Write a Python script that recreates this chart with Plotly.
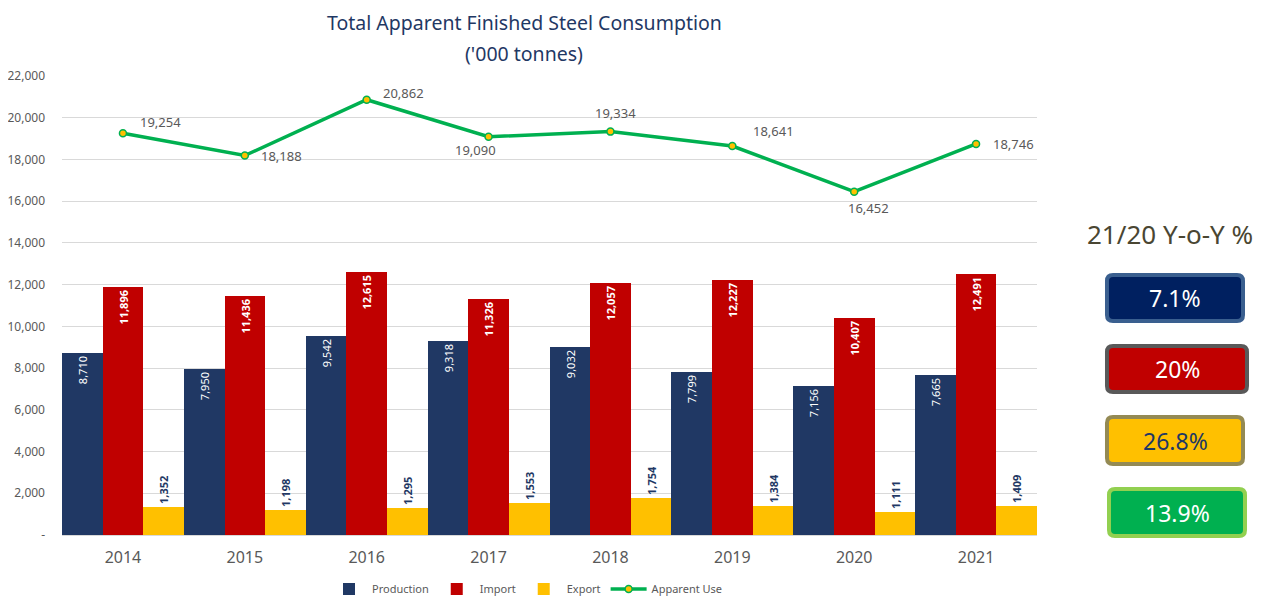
import plotly.graph_objects as go

years = ["2014", "2015", "2016", "2017", "2018", "2019", "2020", "2021"]
production = [8710, 7950, 9542, 9318, 9032, 7799, 7156, 7665]
imports = [11896, 11436, 12615, 11326, 12057, 12227, 10407, 12491]
exports = [1352, 1198, 1295, 1553, 1754, 1384, 1111, 1409]
apparent_use = [19254, 18188, 20862, 19090, 19334, 18641, 16452, 18746]
# label offsets (pixels) relative to each Apparent Use point, with anchor
use_label_dx = [15, 14, 14, -13, 5, 19, 14, 15]
use_label_dy = [11, 0, 7, -13, 19, 15, -16, 0]
use_label_anchor = ["left", "left", "left", "center", "center", "left", "center", "left"]

y_tickvals = [0, 2000, 4000, 6000, 8000, 10000, 12000, 14000, 16000, 18000, 20000, 22000]
y_ticktext = ["-", "2,000", "4,000", "6,000", "8,000", "10,000", "12,000",
              "14,000", "16,000", "18,000", "20,000", "22,000"]

yoy_title = "21/20 Y-o-Y %"
yoy_labels = ["7.1%", "20%", "26.8%", "13.9%"]
yoy_fill = ["#002060", "#C00000", "#FFC000", "#00B050"]
yoy_border = ["#3A5F8F", "#595959", "#948A54", "#92D050"]
yoy_text = ["white", "white", "#1F3864", "white"]

FONT = "Noto Sans"
OFF = 8  # page body margin offset
W, H = 1269 - OFF, 598 - OFF
L = 62 - OFF
T = 76 - OFF
B = H - (535 - OFF)
R = W - (1037 - OFF)
PW, PH = W - L - R, H - T - B

def fmt(v):
    return f"{v:,}"

fig = go.Figure()
fig.add_trace(go.Bar(
    name="Production", x=years, y=production, marker_color="#203864",
    marker_line_width=0,
    text=[fmt(v) for v in production], textposition="inside",
    insidetextanchor="end", textangle=-90,
    textfont=dict(color="white", size=11, family=FONT),
))
fig.add_trace(go.Bar(
    name="Import", x=years, y=imports, marker_color="#C00000",
    marker_line_width=0,
    text=[f"<b>{fmt(v)}</b>" for v in imports], textposition="inside",
    insidetextanchor="end", textangle=-90,
    textfont=dict(color="white", size=11, family=FONT),
))
fig.add_trace(go.Bar(
    name="Export", x=years, y=exports, marker_color="#FFC000",
    marker_line_width=0,
    text=[f"<b>{fmt(v)}</b>" for v in exports], textposition="outside",
    textangle=-90, cliponaxis=False,
    textfont=dict(color="#1F3864", size=11, family=FONT),
))
fig.add_trace(go.Scatter(
    name="Apparent Use", x=years, y=apparent_use, mode="lines+markers",
    line=dict(color="#00B050", width=3.5),
    marker=dict(color="#FFC000", size=7, line=dict(color="#00B050", width=1.5)),
))

for i, (v, dx, dy, anc) in enumerate(zip(apparent_use, use_label_dx, use_label_dy, use_label_anchor)):
    fig.add_annotation(x=i, y=v, xref="x", yref="y", text=fmt(v), showarrow=False,
                       xshift=dx, yshift=dy, xanchor=anc, yanchor="middle",
                       font=dict(color="#595959", size=13, family=FONT))

fig.update_layout(
    width=W, height=H,
    margin=dict(l=L, r=R, t=T, b=B, autoexpand=False),
    paper_bgcolor="white", plot_bgcolor="white",
    barmode="group", bargap=0.0, bargroupgap=0.0,
    font=dict(family=FONT, color="#595959"),
    showlegend=True,
    legend=dict(orientation="h", x=(527 - OFF - L) / PW, xanchor="center",
                y=(H - B - (589 - OFF)) / PH, yanchor="middle",
                font=dict(size=11, color="#595959", family=FONT),
                itemwidth=36, traceorder="normal"),
    xaxis=dict(type="category", range=[-0.5, len(years) - 0.5],
               showgrid=False, showline=True, linecolor="#D9D9D9",
               linewidth=1, automargin=False, ticklabelstandoff=8,
               tickfont=dict(size=16, color="#595959", family=FONT), ticks=""),
    yaxis=dict(range=[0, 22000], tickvals=y_tickvals, ticktext=y_ticktext,
               automargin=False, ticklabelstandoff=16,
               showgrid=True, gridcolor="#D9D9D9", gridwidth=1, zeroline=False,
               tickfont=dict(size=12, color="#595959", family=FONT), ticks=""),
)

def px_x(px):
    return (px - OFF - L) / PW

def px_y(py):
    return (H - B - (py - OFF)) / PH

fig.add_annotation(x=px_x(524), y=px_y(OFF), xref="paper", yref="paper",
                   text="Total Apparent Finished Steel Consumption", showarrow=False,
                   font=dict(size=19.5, color="#1F3864", family=FONT), borderpad=0,
                   xanchor="center", yanchor="top")
fig.add_annotation(x=px_x(524), y=px_y(53), xref="paper", yref="paper",
                   text="('000 tonnes)", showarrow=False,
                   font=dict(size=19.5, color="#1F3864", family=FONT),
                   xanchor="center", yanchor="middle")

fig.add_annotation(x=px_x(1170), y=px_y(234), xref="paper", yref="paper",
                   text=yoy_title, showarrow=False,
                   font=dict(size=26, color="#4A4632", family=FONT),
                   xanchor="center", yanchor="middle")

def rrect(x0, y0, x1, y1, r):
    def P(x, y):
        return f"{px_x(x):.5f},{px_y(y):.5f}"
    return (f"M {P(x0 + r, y0)} L {P(x1 - r, y0)} Q {P(x1, y0)} {P(x1, y0 + r)} "
            f"L {P(x1, y1 - r)} Q {P(x1, y1)} {P(x1 - r, y1)} "
            f"L {P(x0 + r, y1)} Q {P(x0, y1)} {P(x0, y1 - r)} "
            f"L {P(x0, y0 + r)} Q {P(x0, y0)} {P(x0 + r, y0)} Z")

boxes = [(1107, 275, 1243, 321), (1107, 346, 1247, 392),
         (1107, 417, 1243, 464), (1109, 489, 1245, 536)]
for (x0, y0, x1, y1), lab, fc, bc, tc in zip(boxes, yoy_labels, yoy_fill, yoy_border, yoy_text):
    fig.add_shape(type="path", path=rrect(x0, y0, x1, y1, 6), xref="paper", yref="paper",
                  fillcolor=fc, line=dict(color=bc, width=4), layer="above")
    fig.add_annotation(x=px_x((x0 + x1) / 2), y=px_y((y0 + y1) / 2), xref="paper", yref="paper",
                       text=lab, showarrow=False,
                       font=dict(size=23, color=tc, family=FONT),
                       xanchor="center", yanchor="middle")

fig.write_html("out.html")
